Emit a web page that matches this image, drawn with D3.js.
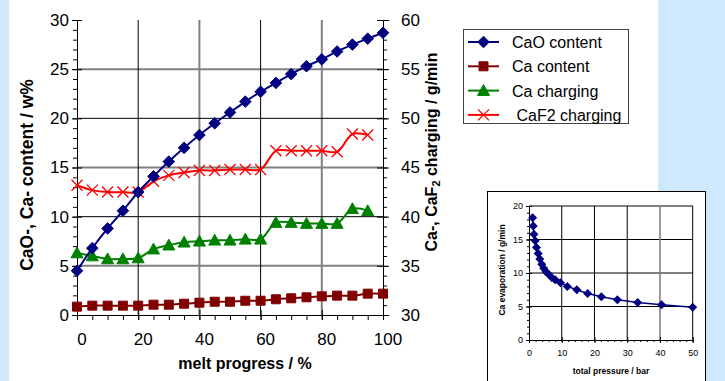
<!DOCTYPE html>
<html>
<head>
<meta charset="utf-8">
<script src="https://cdn.jsdelivr.net/npm/d3@7"></script>
<style>
  body { margin: 0; background: #cde9fb; }
  svg { display: block; font-family: "Liberation Sans", Arial, sans-serif; }
</style>
</head>
<body>
<script>
// Main chart data
var progress = [0, 5, 10, 15, 20, 25, 30, 35, 40, 45, 50, 55, 60, 65, 70, 75, 80, 85, 90, 95, 100];
var caoContent = [4.5, 6.8, 8.8, 10.6, 12.5, 14.1, 15.6, 17.0, 18.3, 19.5, 20.6, 21.7, 22.7, 23.6, 24.5, 25.3, 26.0, 26.8, 27.5, 28.1, 28.7];
var caContent = [0.85, 0.95, 0.95, 0.95, 0.95, 1.05, 1.05, 1.15, 1.25, 1.35, 1.35, 1.45, 1.45, 1.6, 1.7, 1.8, 1.9, 1.97, 1.97, 2.17, 2.17];
var chargeProgress = [0, 5, 10, 15, 20, 25, 30, 35, 40, 45, 50, 55, 60, 65, 70, 75, 80, 85, 90, 95];
var caCharging = [36.3, 36.0, 35.7, 35.7, 35.8, 36.7, 37.1, 37.4, 37.5, 37.6, 37.6, 37.7, 37.7, 39.4, 39.4, 39.3, 39.3, 39.3, 40.8, 40.6];
var caf2Charging = [43.2, 42.7, 42.5, 42.5, 42.5, 43.6, 44.2, 44.5, 44.7, 44.7, 44.8, 44.8, 44.8, 46.7, 46.7, 46.7, 46.7, 46.6, 48.4, 48.3];
var xTicks = [0, 20, 40, 60, 80, 100];
var leftTicks = [0, 5, 10, 15, 20, 25, 30];
var rightTicks = [30, 35, 40, 45, 50, 55, 60];
var legendNames = ["CaO content", "Ca content", "Ca charging", " CaF2 charging"];

// Inset data
var pressure = [1.1, 1.3, 1.5, 1.9, 2.3, 2.8, 3.3, 3.9, 4.5, 5.2, 6.0, 7.0, 8.0, 9.6, 11.7, 14.6, 17.9, 22.1, 27.0, 33.2, 40.5, 50];
var caEvap = [18.25, 17.0, 15.8, 14.8, 13.8, 12.9, 12.1, 11.3, 10.7, 10.2, 9.8, 9.3, 9.0, 8.55, 8.0, 7.5, 6.95, 6.45, 6.0, 5.6, 5.25, 4.9];
var insetXTicks = [0, 10, 20, 30, 40, 50];
var insetYTicks = [0, 5, 10, 15, 20];

var svgWidth = 725, svgHeight = 381;

var svg = d3.select("body").append("svg")
  .attr("width", svgWidth)
  .attr("height", svgHeight);

// white panel
svg.append("rect")
  .attr("x", 9).attr("y", 0)
  .attr("width", 649).attr("height", svgHeight)
  .attr("fill", "#fff");

// scales
var x = d3.scaleLinear().domain([0, 100]).range([77, 383]);
var yL = d3.scaleLinear().domain([0, 30]).range([315, 20]);
var yR = d3.scaleLinear().domain([30, 60]).range([315, 20]);

// gridlines
var grid = svg.append("g");
[5, 15, 25].forEach(function(v) {
  grid.append("line").attr("x1", x(0)).attr("x2", x(100))
    .attr("y1", yL(v)).attr("y2", yL(v))
    .attr("stroke", "#808080").attr("stroke-width", 2);
});
[40, 80].forEach(function(v) {
  grid.append("line").attr("x1", x(v)).attr("x2", x(v))
    .attr("y1", yL(0)).attr("y2", yL(30))
    .attr("stroke", "#808080").attr("stroke-width", 2);
});
[10, 20].forEach(function(v) {
  grid.append("line").attr("x1", x(0)).attr("x2", x(100))
    .attr("y1", yL(v)).attr("y2", yL(v))
    .attr("stroke", "#000").attr("stroke-width", 1);
});
[20, 60].forEach(function(v) {
  grid.append("line").attr("x1", x(v)).attr("x2", x(v))
    .attr("y1", yL(0)).attr("y2", yL(30))
    .attr("stroke", "#000").attr("stroke-width", 1);
});

function styleAxis(g, size) {
  g.select(".domain").attr("stroke", "#000");
  g.selectAll("line").attr("stroke", "#000");
  g.selectAll("text").attr("font-size", size).attr("fill", "#000")
    .attr("font-family", "Liberation Sans, Arial, sans-serif");
}

// left axis
svg.append("g").attr("transform", `translate(${x(0)},0)`)
  .call(d3.axisLeft(yL).tickValues(d3.range(0, 31, 1)).tickSize(4).tickFormat(""))
  .call(g => styleAxis(g, 16));
var gl = svg.append("g").attr("transform", `translate(${x(0)},0)`)
  .call(d3.axisLeft(yL).tickValues(leftTicks).tickSize(5).tickPadding(3).tickSizeOuter(0));
gl.selectAll(".tick line").attr("x2", -5).attr("x1", 5);
styleAxis(gl, 17);

// right axis
svg.append("g").attr("transform", `translate(${x(100)},0)`)
  .call(d3.axisRight(yR).tickValues(d3.range(30, 61, 1)).tickSize(4).tickFormat(""))
  .call(g => styleAxis(g, 16));
var gr = svg.append("g").attr("transform", `translate(${x(100)},0)`)
  .call(d3.axisRight(yR).tickValues(rightTicks).tickSize(6).tickPadding(12).tickSizeOuter(0));
gr.selectAll(".tick line").attr("x1", -6);
styleAxis(gr, 17);

// bottom axis
svg.append("g").attr("transform", `translate(0,${yL(0)})`)
  .call(d3.axisBottom(x).tickValues(d3.range(0, 101, 5)).tickSize(5).tickFormat(""))
  .call(g => styleAxis(g, 16));
var gb = svg.append("g").attr("transform", `translate(0,${yL(0)})`)
  .call(d3.axisBottom(x).tickValues(xTicks).tickSize(5).tickPadding(13).tickSizeOuter(0));
gb.selectAll(".tick line").attr("y1", -5);
gb.selectAll(".tick text").attr("dx", 4.5);
styleAxis(gb, 17);

// axis titles
svg.append("text")
  .attr("transform", `translate(33,175) rotate(-90)`)
  .attr("text-anchor", "middle")
  .attr("font-size", 17.5).attr("font-weight", "bold")
  .text("CaO-, Ca- content / w%");

var rt = svg.append("text")
  .attr("transform", `translate(437,152) rotate(-90)`)
  .attr("text-anchor", "middle")
  .attr("font-size", 16).attr("font-weight", "bold");
rt.append("tspan").text("Ca-, CaF");
rt.append("tspan").attr("font-size", 11).attr("dy", 3).text("2");
rt.append("tspan").attr("dy", -3).text(" charging / g/min");

svg.append("text")
  .attr("x", 245).attr("y", 369)
  .attr("text-anchor", "middle")
  .attr("font-size", 16).attr("font-weight", "bold")
  .text("melt progress / %");

// marker shapes
function diamond(r) { return `M0,${-r}L${r},0L0,${r}L${-r},0Z`; }
function square(r) { return `M${-r},${-r}H${r}V${r}H${-r}Z`; }
function triangle(r) { return `M0,${-r}L${r},${r * 0.8}L${-r},${r * 0.8}Z`; }
function cross(r) { return `M${-r},${-r}L${r},${r}M${-r},${r}L${r},${-r}`; }

var series = [
  { name: legendNames[0], xs: progress, ys: caoContent, scale: yL, color: "#000080", shape: diamond(5.8), fill: true },
  { name: legendNames[1], xs: progress, ys: caContent, scale: yL, color: "#800000", shape: square(4.5), fill: true },
  { name: legendNames[2], xs: chargeProgress, ys: caCharging, scale: yR, color: "#008000", shape: triangle(6), fill: true },
  { name: legendNames[3], xs: chargeProgress, ys: caf2Charging, scale: yR, color: "#ff0000", shape: cross(5.5), fill: false }
];

var plot = svg.append("g");
series.slice().reverse().forEach(function(s) {
  var pts = s.xs.map((v, i) => [v, s.ys[i]]);
  var line = d3.line()
    .x(d => x(d[0]))
    .y(d => s.scale(d[1]))
    .curve(d3.curveCatmullRom.alpha(0.5));
  plot.append("path").datum(pts)
    .attr("d", line)
    .attr("fill", "none")
    .attr("stroke", s.color)
    .attr("stroke-width", 2);
  plot.selectAll(null).data(pts).enter().append("path")
    .attr("transform", d => `translate(${x(d[0])},${s.scale(d[1])})`)
    .attr("d", s.shape)
    .attr("fill", s.fill ? s.color : "none")
    .attr("stroke", s.color)
    .attr("stroke-width", s.fill ? 1 : 1.3);
});

// legend
var legend = svg.append("g");
legend.append("rect")
  .attr("x", 463.5).attr("y", 29.5)
  .attr("width", 165).attr("height", 94)
  .attr("fill", "#fff").attr("stroke", "#444");
series.forEach(function(s, i) {
  var ly = 42 + i * 24.3;
  legend.append("line").attr("x1", 468).attr("x2", 499)
    .attr("y1", ly).attr("y2", ly)
    .attr("stroke", s.color).attr("stroke-width", 2);
  legend.append("path")
    .attr("transform", `translate(483.5,${ly})`)
    .attr("d", s.shape)
    .attr("fill", s.fill ? s.color : "none")
    .attr("stroke", s.color).attr("stroke-width", s.fill ? 1 : 1.3);
  legend.append("text")
    .attr("x", 512).attr("y", ly + 6)
    .attr("font-size", 16)
    .attr("xml:space", "preserve")
    .style("white-space", "pre")
    .text(s.name);
});

// ---------- inset chart ----------
var inset = svg.append("g");
inset.append("rect")
  .attr("x", 487.5).attr("y", 191.5)
  .attr("width", 218).attr("height", 200)
  .attr("fill", "#fff").attr("stroke", "#000");

var ix = d3.scaleLinear().domain([0, 50]).range([529, 692.7]);
var iy = d3.scaleLinear().domain([0, 20]).range([340, 206]);

[5, 10, 15, 20].forEach(function(v) {
  inset.append("line").attr("x1", ix(0)).attr("x2", ix(50))
    .attr("y1", iy(v)).attr("y2", iy(v))
    .attr("stroke", "#000").attr("stroke-width", 1);
});
[10, 20, 30, 40, 50].forEach(function(v) {
  inset.append("line").attr("x1", ix(v)).attr("x2", ix(v))
    .attr("y1", iy(0)).attr("y2", iy(20))
    .attr("stroke", v == 40 ? "#808080" : "#000").attr("stroke-width", v == 40 ? 1.6 : 1);
});

inset.append("g").attr("transform", `translate(${ix(0)},0)`)
  .call(d3.axisLeft(iy).tickValues(d3.range(0, 21, 1)).tickSize(2).tickFormat(""))
  .call(g => styleAxis(g, 9));
var igl = inset.append("g").attr("transform", `translate(${ix(0)},0)`)
  .call(d3.axisLeft(iy).tickValues(insetYTicks).tickSize(3).tickPadding(3).tickSizeOuter(0));
igl.selectAll(".tick line").attr("x1", 3);
styleAxis(igl, 9);

inset.append("g").attr("transform", `translate(0,${iy(0)})`)
  .call(d3.axisBottom(ix).tickValues(d3.range(0, 51, 2)).tickSize(2).tickFormat(""))
  .call(g => styleAxis(g, 9));
var igb = inset.append("g").attr("transform", `translate(0,${iy(0)})`)
  .call(d3.axisBottom(ix).tickValues(insetXTicks).tickSize(3).tickPadding(7).tickSizeOuter(0));
igb.selectAll(".tick line").attr("y1", -3);
styleAxis(igb, 9);

inset.append("text")
  .attr("transform", `translate(505,270) rotate(-90)`)
  .attr("text-anchor", "middle")
  .attr("font-size", 8.5).attr("font-weight", "bold")
  .text("Ca evaporation / g/min");
inset.append("text")
  .attr("x", 611).attr("y", 374)
  .attr("text-anchor", "middle")
  .attr("font-size", 8.5).attr("font-weight", "bold")
  .text("total pressure / bar");

var ipts = pressure.map((v, i) => [v, caEvap[i]]);
inset.append("path").datum(ipts)
  .attr("d", d3.line().x(d => ix(d[0])).y(d => iy(d[1])))
  .attr("fill", "none").attr("stroke", "#000080").attr("stroke-width", 1.5);
inset.selectAll(null).data(ipts).enter().append("path")
  .attr("transform", d => `translate(${ix(d[0])},${iy(d[1])})`)
  .attr("d", diamond(4.5))
  .attr("fill", "#000080");
</script>
</body>
</html>
